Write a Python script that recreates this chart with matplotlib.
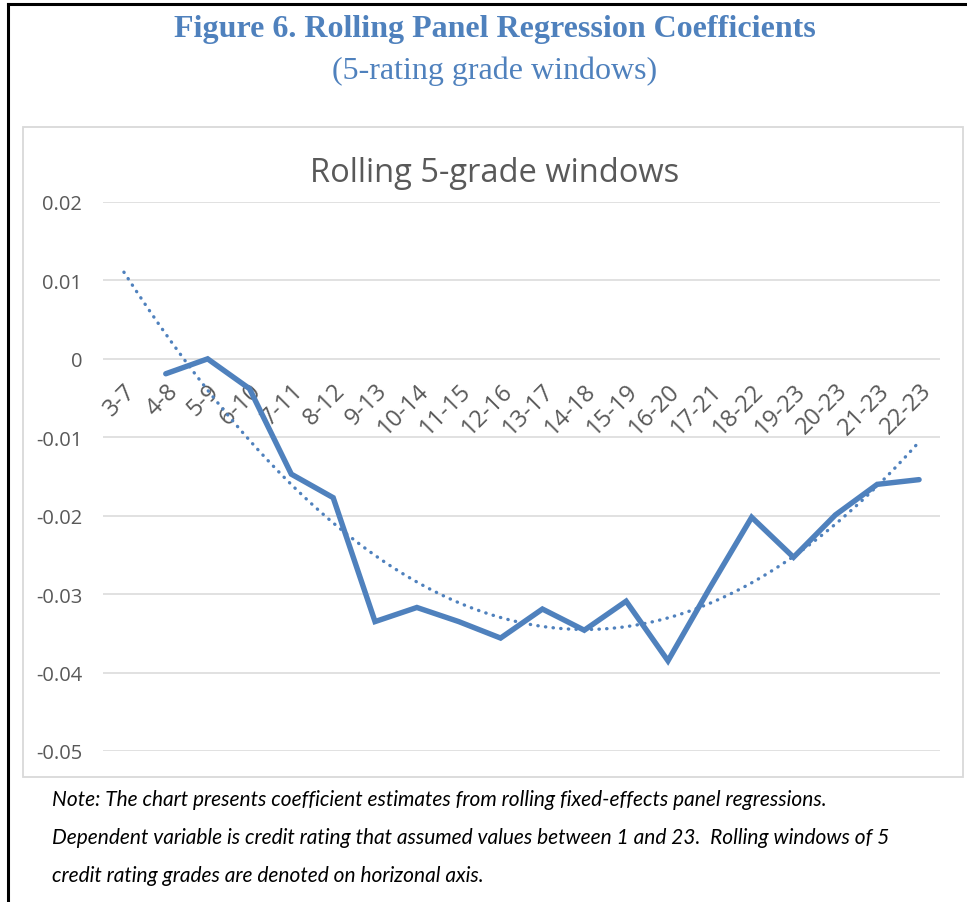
import numpy as np
import matplotlib.pyplot as plt
from matplotlib.patches import Rectangle
from matplotlib.lines import Line2D

# rolling 5-grade windows on the category axis
windows = ['3-7', '4-8', '5-9', '6-10', '7-11', '8-12', '9-13', '10-14', '11-15',
           '12-16', '13-17', '14-18', '15-19', '16-20', '17-21', '18-22', '19-23',
           '20-23', '21-23', '22-23']
# coefficient estimates (no estimate for the first window)
coef = [np.nan, -0.0019, 0.0000, -0.0038, -0.0147, -0.0177, -0.0335, -0.0317, -0.0335,
        -0.0356, -0.0319, -0.0346, -0.0309, -0.0385, -0.0292, -0.0202, -0.0253,
        -0.0199, -0.0160, -0.0154]
y_ticks = [0.02, 0.01, 0.0, -0.01, -0.02, -0.03, -0.04, -0.05]
y_labels = ['0.02', '0.01', '0', '-0.01', '-0.02', '-0.03', '-0.04', '-0.05']

blue = '#4F81BD'
grey = '#595959'

fig = plt.figure(figsize=(9.67, 9.03), dpi=100)
W, H = 967, 903

# outer frame (left and top edges) and chart area border
fig.add_artist(Line2D([8 / W, 8 / W], [0, 1 - 5 / H], color='black', lw=2.2))
fig.add_artist(Line2D([8 / W, 1], [1 - 5 / H, 1 - 5 / H], color='black', lw=2.2))
fig.add_artist(Rectangle((23 / W, 1 - 778 / H), (963 - 23) / W, (778 - 128) / H,
                         transform=fig.transFigure, fill=False, ec='#D9D9D9', lw=1.3))

fig.text(495 / W, 1 - 29 / H, 'Figure 6. Rolling Panel Regression Coefficients',
         family='Liberation Serif', weight='bold', fontsize=23, color='#4F81BD',
         ha='center', va='center')
fig.text(495 / W, 1 - 71 / H, '(5-rating grade windows)',
         family='Liberation Serif', fontsize=23, color='#4F81BD', ha='center', va='center')

ax = fig.add_axes([103 / W, 1 - 752 / H, (940 - 103) / W, (752 - 203) / H])
x = np.arange(len(windows))
y = np.array(coef)

# polynomial trendline over the available points, drawn across the whole axis
ok = ~np.isnan(y)
p = np.polyfit(x[ok], y[ok], 2)
xt = np.linspace(0, len(windows) - 1, 200)
ax.plot(xt, np.polyval(p, xt), color=blue, lw=2.4, linestyle=(0, (0.1, 2.2)),
        dash_capstyle='round', zorder=3)
ax.plot(x, y, color=blue, lw=3.9, solid_joinstyle='miter', solid_capstyle='round', zorder=4)

ax.set_xlim(-0.5, len(windows) - 0.5)
ax.set_ylim(-0.05, 0.02)
ax.set_yticks(y_ticks)
ax.set_yticklabels(y_labels)
ax.yaxis.grid(True, color='#D9D9D9', lw=1.1)
ax.set_axisbelow(True)
for s in ['left', 'right', 'top']:
    ax.spines[s].set_visible(False)
ax.spines['bottom'].set_position(('data', 0))
ax.spines['bottom'].set_visible(False)
ax.set_xticks(x)
ax.set_xticklabels(windows, rotation=45, ha='right', rotation_mode='anchor',
                   family='Open Sans', fontsize=17, color=grey)
ax.tick_params(axis='x', length=0, pad=14)
ax.tick_params(axis='y', length=0, pad=15, labelsize=14.5, labelcolor=grey)
for t in ax.get_yticklabels():
    t.set_family('Open Sans')

fig.text(495 / W, 1 - 174 / H, 'Rolling 5-grade windows', family='Open Sans',
         fontsize=23.5, color=grey, ha='center', va='center')

notes = ['Note: The chart presents coefficient estimates from rolling fixed-effects panel regressions.',
         'Dependent variable is credit rating that assumed values between 1 and 23.  Rolling windows of 5',
         'credit rating grades are denoted on horizonal axis.']
for i, line in enumerate(notes):
    fig.text(52 / W, 1 - (800 + 38 * i) / H, line, family='Lato', style='italic',
             fontsize=15, color='black', ha='left', va='center')

fig.savefig('out.png', dpi=100)
